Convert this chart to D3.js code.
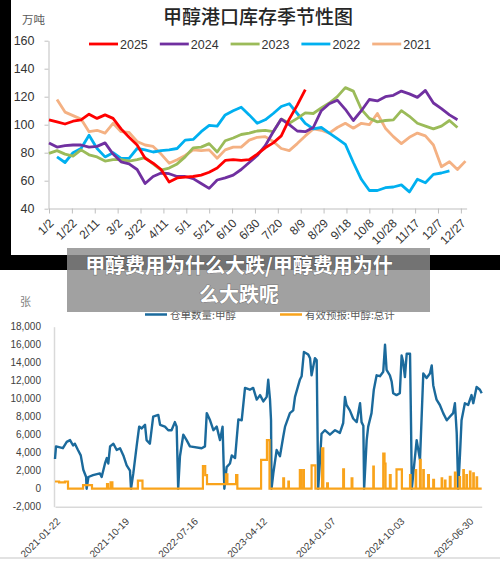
<!DOCTYPE html>
<html>
<head>
<meta charset="utf-8">
<script src="https://cdn.jsdelivr.net/npm/d3@7"></script>
<style>
  body { margin: 0; background: #fff; }
  svg { display: block; }
</style>
</head>
<body>
<svg id="chart" width="500" height="561"></svg>
<script>
// ---- top chart: port inventory by week (万吨) ----
const seasonTicks = ["1/2","1/22","2/11","3/2","3/22","4/11","5/1","5/21","6/10","6/30","7/20","8/9","8/29","9/18","10/8","10/28","11/17","12/7","12/27"];

const inv2025 = [103.5,102,100.5,102.5,103.5,107.5,104.5,107,104.5,97,91,85.5,76,72.5,68,59,62,62.5,63,64,66,69,74.5,75,74.5,75,79,83.5,87,92,104,114,125];
const inv2024 = [87,84,85,85.5,85.5,84,84.5,87,79,73.5,72,68,58,63,65.5,65,63,63,61.5,58,54.5,60.5,62,64,68,73,78,85,95,104,100,95.5,95,98,110,115,117.5,111,103,110,118,117,120,121,124,122,119.5,124.5,115.5,111.5,107,103.5];
const inv2023 = [79.5,81.5,79,77.5,82,78.5,77,74,75,75,74,75,76.5,72,67.5,69,72,77,83.5,84,86.5,80.5,88.5,90.5,93,94,95.5,96,95,104,101,104.5,108.5,108,112,115.5,120,126.5,124,111,104.5,102,103,103.5,110,106,101,99,97,99,103,98];
const inv2022 = [null,77,73,80,83,92.5,83,77,80,76,76,83,82,80.5,81.5,82,83,89,89.5,95,99.5,99,107,110,112.5,107,101,103.5,108,113,115,108,101,97,98,94,90,86,73,61,53,53,55,55.5,57,52,61,58.5,64.5,65.5,67];
const inv2021 = [null,118,109,106.5,104,95,96,94,101,95,94.5,88,85.5,84.5,79,72.5,75,78,82,81.5,82,76,82,84,84,89,91,91.5,88,83,81.5,86.5,92,97,96,94,98,101,97.5,101,100,108,97.5,91.5,86.5,91,94,92,85.5,70,73.5,68,74];

// ---- bottom chart: warehouse receipts (张) ----
const dateTicks = ["2021-01-22","2021-10-19","2022-07-16","2023-04-12","2024-01-07","2024-10-03","2025-06-30"];

const receiptDates = ["2021-01-22","2021-01-26","2021-02-22","2021-03-09","2021-03-22","2021-04-03","2021-04-10","2021-04-22","2021-05-03","2021-05-13",
  "2021-05-24","2021-05-26","2021-06-02","2021-06-20","2021-07-17","2021-07-24","2021-08-06","2021-08-13","2021-08-19","2021-08-26",
  "2021-09-08","2021-09-21","2021-10-04","2021-10-17","2021-10-30","2021-11-12","2021-11-16","2021-11-25","2021-12-08","2021-12-18",
  "2021-12-28","2022-01-10","2022-01-16","2022-01-29","2022-02-11","2022-03-03","2022-03-10","2022-03-29","2022-04-11","2022-04-24",
  "2022-05-07","2022-05-14","2022-05-20","2022-05-27","2022-06-09","2022-06-22","2022-07-05","2022-08-20","2022-09-02","2022-09-09",
  "2022-09-22","2022-10-05","2022-10-18","2022-10-31","2022-11-10","2022-11-17","2022-11-26","2022-12-09","2022-12-16","2022-12-29",
  "2023-01-04","2023-01-11","2023-01-24","2023-02-06","2023-02-25","2023-03-10","2023-03-24","2023-04-06","2023-04-19","2023-05-02",
  "2023-05-08","2023-05-15","2023-05-19","2023-05-21","2023-05-28","2023-06-10","2023-06-23","2023-07-06","2023-07-13","2023-08-01",
  "2023-08-14","2023-08-21","2023-09-09","2023-09-16","2023-09-25","2023-10-12","2023-10-19","2023-10-25","2023-11-07","2023-11-14",
  "2023-11-20","2023-11-27","2023-12-03","2023-12-16","2024-01-05","2024-01-25","2024-02-13","2024-02-26","2024-03-04","2024-03-10",
  "2024-03-23","2024-04-05","2024-04-19","2024-04-25","2024-05-02","2024-05-08","2024-05-15","2024-05-18","2024-05-28","2024-06-03",
  "2024-06-16","2024-06-25","2024-07-06","2024-07-19","2024-08-01","2024-08-08","2024-08-14","2024-08-27","2024-09-03","2024-09-09",
  "2024-09-22","2024-10-05","2024-10-12","2024-10-18","2024-10-25","2024-11-01","2024-11-14","2024-11-18","2024-11-21","2024-12-10",
  "2024-12-23","2024-12-29","2025-01-05","2025-01-18","2025-01-31","2025-02-07","2025-02-13","2025-02-20","2025-02-26","2025-03-11",
  "2025-03-24","2025-04-07","2025-04-19","2025-05-02","2025-05-09","2025-05-16","2025-05-22","2025-05-29","2025-06-04","2025-06-17",
  "2025-06-30","2025-07-13","2025-07-20","2025-08-02","2025-08-15","2025-08-22"];
const receiptValues = [3300,4700,4500,5200,5400,4800,5000,4300,3700,2100,
  1300,0,1300,1500,1700,1300,2800,3400,2800,4700,
  5000,4300,4500,3700,2600,2000,0,1700,4700,6900,
  6700,7100,5400,5000,8000,8200,7100,6900,6500,6500,
  7400,6900,0,3600,6000,5400,4700,4500,4700,8400,
  7600,6500,6900,5400,6900,0,2400,2800,3700,3400,
  5400,7700,7600,11200,11000,11200,9900,10400,9700,10200,
  12100,9900,7600,0,1700,4300,3600,5800,6900,8400,
  8700,10200,12100,12500,15200,14900,14500,12600,14500,14300,
  0,3200,6100,6500,6000,6500,6200,7300,10200,9300,
  8700,7800,7400,8400,9500,7400,7000,0,5400,6900,
  8400,11000,12600,12500,13000,16000,13200,12600,11900,10600,
  10400,10600,14800,14100,12400,15000,15000,7000,0,5400,
  3200,7600,12800,12300,12800,13700,11500,10600,9900,9300,
  8400,7600,8000,8400,9500,6200,0,3900,7600,9500,
  9300,10400,9500,11300,11000,10600];

// forecast series changes (value holds until the next date)
const forecastDates = ["2021-01-22","2021-02-07","2021-03-02","2021-03-14","2021-05-12","2021-06-16","2021-08-14","2021-08-18","2021-08-28","2021-09-04",
  "2021-12-13","2021-12-31","2022-08-25","2022-09-03","2022-09-10","2022-11-23","2022-11-29","2023-01-02","2023-01-07","2023-04-10",
  "2023-05-03","2023-05-13","2023-07-06","2023-07-09","2023-07-26","2023-07-28","2023-09-09","2023-09-13","2023-09-22","2023-09-25",
  "2023-10-25","2023-11-09","2023-12-05","2023-12-10","2023-12-25","2023-12-28","2024-02-26","2024-02-29","2024-03-30","2024-04-02",
  "2024-06-23","2024-06-25","2024-08-01","2024-08-06","2024-08-10","2024-08-27","2024-08-30","2024-09-22","2024-10-13","2024-11-14",
  "2024-11-16","2024-12-06","2024-12-08","2024-12-23","2024-12-26","2025-01-05","2025-01-07","2025-01-24","2025-01-27","2025-02-13",
  "2025-02-16","2025-03-18","2025-03-20","2025-03-31","2025-04-02","2025-04-19","2025-04-22","2025-05-09","2025-05-12","2025-05-27",
  "2025-05-29","2025-06-11","2025-06-13","2025-06-23","2025-06-25","2025-07-07","2025-07-09","2025-07-20","2025-07-22","2025-08-02",
  "2025-08-04","2025-08-22"];
const forecastValues = [800,700,800,0,400,0,500,0,700,0,
  900,0,2500,1500,500,1600,500,1500,0,3200,
  5400,0,1150,0,780,0,2070,0,2070,0,
  2600,0,4480,0,600,0,2150,0,1150,0,
  2450,0,3900,2800,0,1500,0,2150,0,1500,
  0,2070,0,3200,0,2070,0,1500,0,970,
  0,1150,0,900,0,1330,0,1780,0,1300,
  0,2070,0,1500,0,1900,0,1700,0,1260,
  0,0];

const SANS = '"Liberation Sans", Arial, sans-serif';
const CJK = '"Noto Sans CJK SC", "Noto Sans", sans-serif';

const svg = d3.select("#chart");

// black frame round the top picture
svg.append("rect").attr("x", 0).attr("y", 0).attr("width", 11).attr("height", 270).attr("fill", "#000");
svg.append("rect").attr("x", 0).attr("y", 255).attr("width", 500).attr("height", 15).attr("fill", "#000");

// ================= top chart =================
const topChart = svg.append("g");

topChart.append("text")
  .attr("x", 258).attr("y", 24)
  .attr("text-anchor", "middle")
  .attr("font-family", CJK).attr("font-size", 19).attr("font-weight", 500)
  .attr("fill", "#262626")
  .text("甲醇港口库存季节性图");

topChart.append("text")
  .attr("x", 22).attr("y", 24)
  .attr("font-family", CJK).attr("font-size", 11.5)
  .attr("fill", "#595959")
  .text("万吨");

const x1 = d3.scaleLinear().domain([0, 365]).range([49, 466.6]);
const y1 = d3.scaleLinear().domain([40, 160]).range([208.7, 40.7]);

topChart.append("g")
  .attr("transform", "translate(48.5,0)")
  .call(d3.axisLeft(y1).tickValues(d3.range(40, 161, 20)).tickSize(4).tickPadding(10).tickSizeOuter(0))
  .call(g => {
    g.select(".domain").attr("stroke", "#bfbfbf");
    g.selectAll(".tick line").attr("stroke", "#bfbfbf");
    g.selectAll(".tick text").attr("font-family", SANS).attr("font-size", 12.5).attr("fill", "#333");
  });

topChart.append("g")
  .attr("transform", "translate(0,208.5)")
  .call(d3.axisBottom(x1).tickValues(d3.range(0, 361, 20)).tickFormat((d, i) => seasonTicks[i]).tickSize(5).tickSizeOuter(0))
  .call(g => {
    g.select(".domain").attr("stroke", "#bfbfbf");
    g.selectAll(".tick line").attr("stroke", "#bfbfbf");
    g.selectAll(".tick text")
      .attr("x", 0).attr("y", 0).attr("dy", "0.35em")
      .attr("text-anchor", "end")
      .attr("transform", "translate(2,12.5) rotate(-45)")
      .attr("font-family", SANS).attr("font-size", 12).attr("fill", "#333");
  });

const seasonSeries = [
  { name: "2021", values: inv2021, color: "#f4b183" },
  { name: "2022", values: inv2022, color: "#00b0f0" },
  { name: "2023", values: inv2023, color: "#9bbb59" },
  { name: "2024", values: inv2024, color: "#7030a0" },
  { name: "2025", values: inv2025, color: "#ff0000" }
];

const line1 = d3.line()
  .defined(d => d != null)
  .x((d, i) => x1(i * 7))
  .y(d => y1(d));

topChart.append("g").selectAll("path")
  .data(seasonSeries)
  .join("path")
  .attr("fill", "none")
  .attr("stroke", d => d.color)
  .attr("stroke-width", 2.8)
  .attr("stroke-linejoin", "round")
  .attr("d", d => line1(d.values));

// legend: 2025 ... 2021
const legend1 = topChart.append("g").selectAll("g")
  .data(seasonSeries.slice().reverse())
  .join("g")
  .attr("transform", (d, i) => `translate(${89 + i * 70.8},44)`);
legend1.append("line")
  .attr("x1", 0).attr("x2", 29)
  .attr("stroke", d => d.color).attr("stroke-width", 2.8);
legend1.append("text")
  .attr("x", 31).attr("y", 4.5)
  .attr("font-family", SANS).attr("font-size", 12.5).attr("fill", "#333")
  .text(d => d.name);

// ================= bottom chart =================
const bottomChart = svg.append("g");
const parse = d3.utcParse("%Y-%m-%d");

const x2 = d3.scaleUtc().domain([parse("2021-01-22"), parse("2025-08-22")]).range([55, 481.7]);
const y2 = d3.scaleLinear().domain([-2000, 18000]).range([506.7, 326.7]);

bottomChart.append("text")
  .attr("x", 20).attr("y", 306)
  .attr("font-family", CJK).attr("font-size", 11)
  .attr("fill", "#7f7f7f")
  .text("张");

const fmt = d3.format(",");
bottomChart.append("g")
  .attr("transform", "translate(54,0)")
  .call(d3.axisLeft(y2).tickValues(d3.range(-2000, 18001, 2000)).tickSize(0).tickPadding(13).tickSizeOuter(0)
    .tickFormat(d => (d < 0 ? "-" : "") + fmt(Math.abs(d))))
  .call(g => {
    g.select(".domain").attr("stroke", "#d9d9d9").attr("stroke-width", 1.5);
    g.selectAll(".tick text").attr("font-family", SANS).attr("font-size", 10).attr("fill", "#404040");
  });

bottomChart.append("g")
  .attr("transform", "translate(0,506.7)")
  .call(d3.axisBottom(x2).tickValues(dateTicks.map(parse)).tickSize(0).tickSizeOuter(0)
    .tickFormat(d3.utcFormat("%Y-%m-%d")))
  .call(g => {
    g.select(".domain").attr("stroke", "#d9d9d9").attr("stroke-width", 1.5);
    g.selectAll(".tick text")
      .attr("x", 0).attr("y", 0).attr("dy", "0.35em")
      .attr("text-anchor", "end")
      .attr("transform", "translate(3,13) rotate(-45)")
      .attr("font-family", SANS).attr("font-size", 10).attr("fill", "#404040");
  });

const receiptLine = d3.line()
  .x((d, i) => x2(parse(receiptDates[i])))
  .y(d => y2(d));

const forecastLine = d3.line()
  .curve(d3.curveStepAfter)
  .x((d, i) => x2(parse(forecastDates[i])))
  .y(d => y2(d));

bottomChart.append("path")
  .attr("fill", "none")
  .attr("stroke", "#1b6a9c")
  .attr("stroke-width", 2.4)
  .attr("stroke-linejoin", "round")
  .attr("d", receiptLine(receiptValues));

bottomChart.append("path")
  .attr("fill", "none")
  .attr("stroke", "#f9a31b")
  .attr("stroke-width", 2.2)
  .attr("d", forecastLine(forecastValues));

const legend2 = [
  { label: "仓单数量:甲醇", color: "#1b6a9c", x: 145 },
  { label: "有效预报:甲醇:总计", color: "#f9a31b", x: 280 }
];
const lg2 = bottomChart.append("g").selectAll("g")
  .data(legend2)
  .join("g")
  .attr("transform", d => `translate(${d.x},314.5)`);
lg2.append("line")
  .attr("x1", 0).attr("x2", 22)
  .attr("stroke", d => d.color).attr("stroke-width", 2.5);
lg2.append("text")
  .attr("x", 25).attr("y", 4)
  .attr("font-family", CJK).attr("font-size", 10.5).attr("fill", "#595959")
  .text(d => d.label);

// light frame of the bottom picture
svg.append("line").attr("x1", 0).attr("x2", 500).attr("y1", 558).attr("y2", 558)
  .attr("stroke", "#d9d9d9").attr("stroke-width", 1.5);

// ================= banner =================
svg.append("rect")
  .attr("x", 67).attr("y", 248).attr("width", 363).attr("height", 64)
  .attr("fill", "#8c8c8c").attr("fill-opacity", 0.82);

svg.append("g").selectAll("text")
  .data(["甲醇费用为什么大跌/甲醇费用为什", "么大跌呢"])
  .join("text")
  .attr("x", 239)
  .attr("y", (d, i) => 272.5 + i * 29)
  .attr("text-anchor", "middle")
  .attr("font-family", CJK).attr("font-size", 20).attr("font-weight", 700)
  .attr("fill", "#fff")
  .attr("stroke", "rgba(0,0,0,0.25)").attr("stroke-width", 1.2)
  .attr("paint-order", "stroke")
  .text(d => d);
</script>
</body>
</html>
